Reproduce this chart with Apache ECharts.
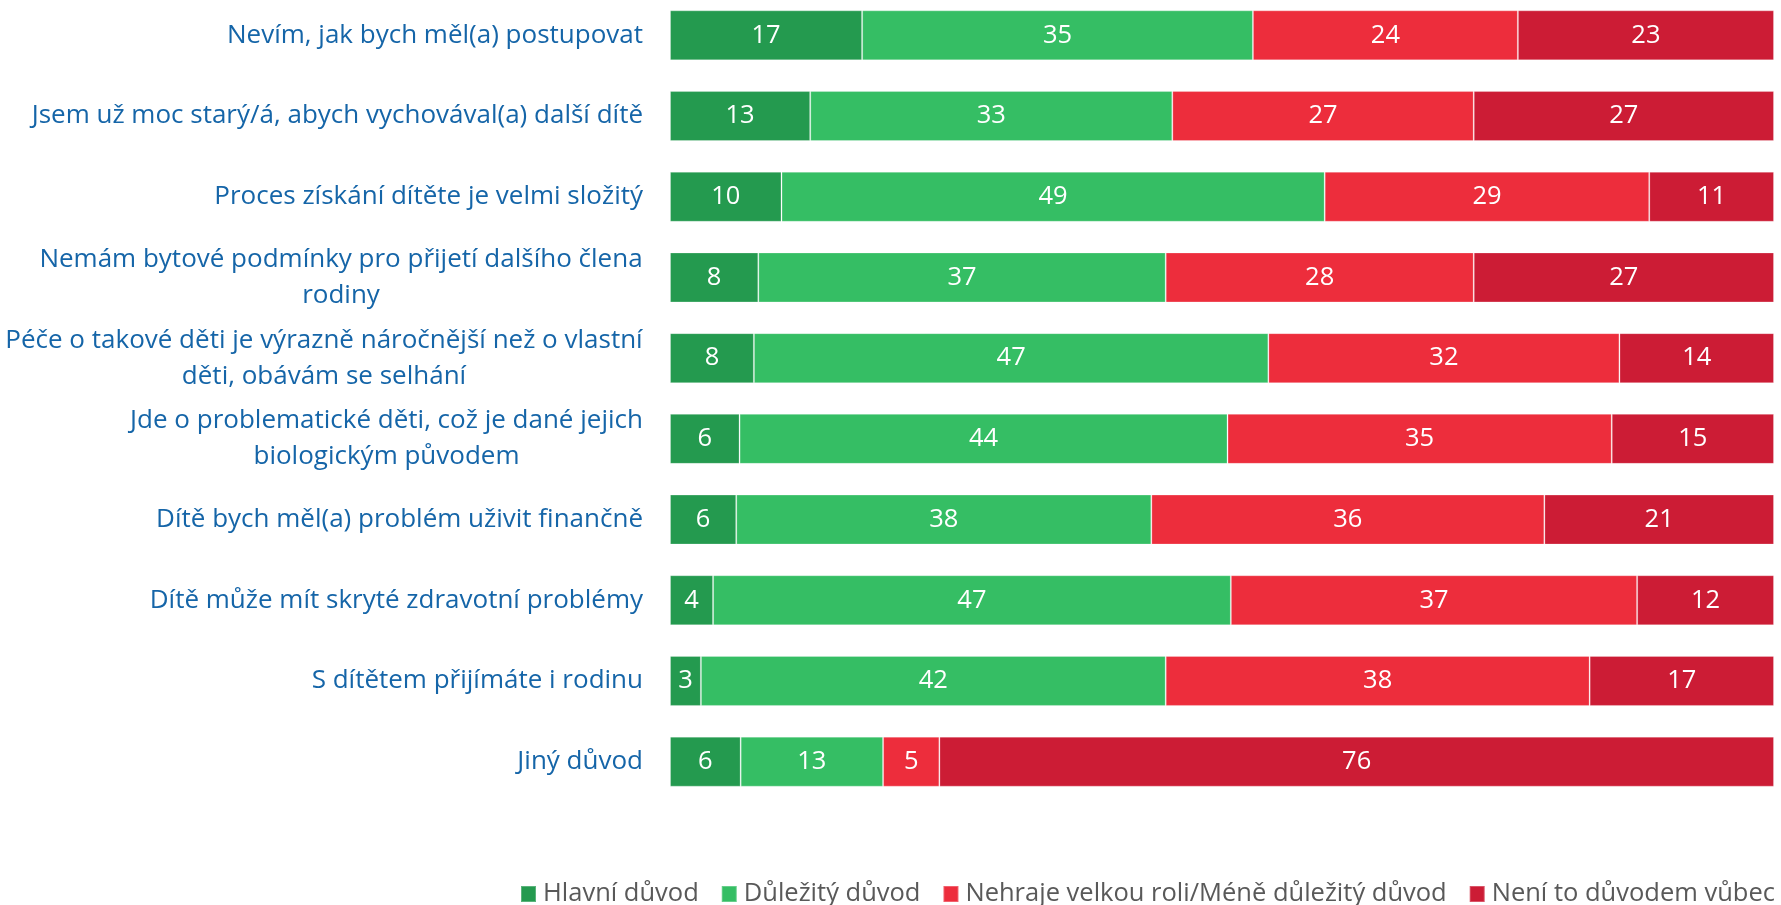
<!DOCTYPE html>
<html>
<head>
<meta charset="utf-8">
<script src="https://cdn.jsdelivr.net/npm/echarts@6/dist/echarts.min.js"></script>
<style>
html,body{margin:0;padding:0;background:#fff;overflow:hidden;width:1781px;height:905px;}
#chart{width:1781px;height:910px;position:relative;top:-5px;}
</style>
</head>
<body>
<div id="chart"></div>
<script>
const categories = [
  "Nevím, jak bych měl(a) postupovat",
  "Jsem už moc starý/á, abych vychovával(a) další dítě",
  "Proces získání dítěte je velmi složitý",
  "Nemám bytové podmínky pro přijetí dalšího člena\nrodiny",
  "Péče o takové děti je výrazně náročnější než o vlastní\nděti, obávám se selhání",
  "Jde o problematické děti, což je dané jejich\nbiologickým původem",
  "Dítě bych měl(a) problém uživit finančně",
  "Dítě může mít skryté zdravotní problémy",
  "S dítětem přijímáte i rodinu",
  "Jiný důvod"
];
const seriesNames = ["Hlavní důvod", "Důležitý důvod", "Nehraje velkou roli/Méně důležitý důvod", "Není to důvodem vůbec"];
const hlavni     = [17.4, 12.7, 10.1, 8.0, 7.6, 6.3, 6.0, 3.9, 2.8, 6.4];
const dulezity   = [35.4, 32.8, 49.2, 36.9, 46.6, 44.2, 37.6, 46.9, 42.1, 12.9];
const nehraje    = [24.0, 27.3, 29.4, 27.9, 31.8, 34.8, 35.6, 36.8, 38.4, 5.1];
const neniVubec  = [23.2, 27.2, 11.3, 27.2, 14.0, 14.7, 20.8, 12.4, 16.7, 75.6];
const colors = ["#249A4F", "#35BE64", "#ED2D3C", "#CC1C35"];

const FONT = "'Open Sans', 'Noto Sans', sans-serif";
const FS = 25.5;
const AFS = 26;

// measure lines of wrapped labels so the second line can be centred under the first
const cv = document.createElement('canvas').getContext('2d');
cv.font = AFS + "px 'Open Sans'";
const rich = {};
const labelMap = {};
categories.forEach((c, i) => {
  const lines = c.split('\n');
  if (lines.length > 1) {
    const w = Math.ceil(Math.max(...lines.map(l => cv.measureText(l).width)));
    rich['w' + i] = {width: w, align: 'center', fontFamily: FONT, fontSize: AFS, color: '#1565A8', lineHeight: 36};
    labelMap[c] = lines.map(l => '{w' + i + '|' + l + '}').join('\n');
  }
});

const dataSets = [hlavni, dulezity, nehraje, neniVubec];
const chart = echarts.init(document.getElementById('chart'));
chart.setOption({
  animation: false,
  color: colors,
  grid: {left: 670, right: 7, top: 0, bottom: 103, containLabel: false},
  xAxis: {type: 'value', min: 0, max: 100, show: false},
  yAxis: {
    type: 'category', data: categories, inverse: true,
    axisLine: {show: false}, axisTick: {show: false}, splitLine: {show: false},
    axisLabel: {
      margin: 27, color: '#1565A8', fontFamily: FONT, fontSize: AFS, lineHeight: 36, align: 'right',
      formatter: v => labelMap[v] || v,
      rich: rich
    }
  },
  legend: {
    left: 520, top: 886, width: 1500, padding: 0, itemWidth: 15, itemHeight: 16, itemGap: 22,
    icon: 'rect',
    textStyle: {color: '#595959', fontFamily: FONT, fontSize: FS, padding: [0, 0, 0, 2]},
    data: seriesNames
  },
  series: dataSets.map((d, i) => ({
    name: seriesNames[i], type: 'bar', stack: 'all', data: d, barWidth: 50,
    itemStyle: {color: colors[i], borderColor: 'rgba(255,255,255,0.25)', borderWidth: 1},
    label: {show: true, position: 'inside', color: '#fff', fontFamily: FONT, fontSize: FS,
      formatter: p => Math.round(p.value)}
  }))
});
</script>
</body>
</html>
